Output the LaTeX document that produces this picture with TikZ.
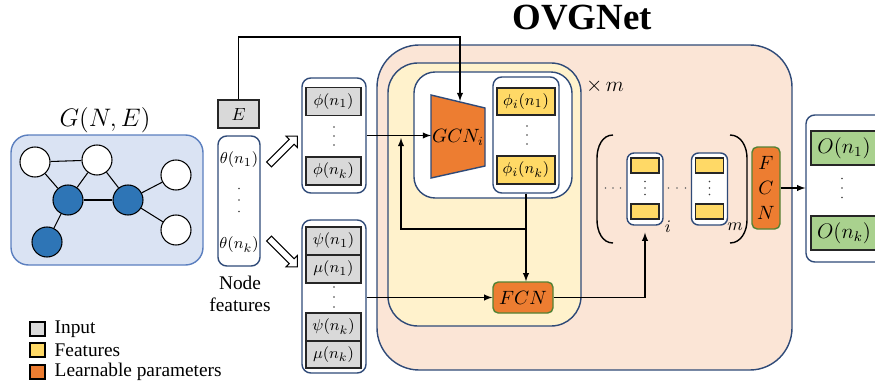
\documentclass[tikz,border=0pt]{standalone}
\usepackage{fontspec}
\setmainfont{Liberation Serif}
\usetikzlibrary{shapes.arrows}

\definecolor{navy}{HTML}{2F4A78}
\definecolor{graphblue}{HTML}{DAE3F3}
\definecolor{graphline}{HTML}{5B7FBF}
\definecolor{nodeblue}{HTML}{2E75B6}
\definecolor{ingray}{HTML}{D9D9D9}
\definecolor{featyellow}{HTML}{FFD966}
\definecolor{learnorange}{HTML}{ED7D31}
\definecolor{outgreen}{HTML}{A9D18E}
\definecolor{peach}{HTML}{FBE5D6}
\definecolor{paleyellow}{HTML}{FFF2CC}
\definecolor{fcnline}{HTML}{548235}

\newcommand{\pxl}{0.02cm}
% three small dots, vertical or horizontal, centred at (#1,#2) with gap #3
\newcommand{\vdotsat}[3]{\foreach \d in {-1,0,1} \fill[black!75] (#1,#2+\d*#3) circle (0.9*\pxl);}
\newcommand{\hdotsat}[3]{\foreach \d in {-1,0,1} \fill[black!60] (#1+\d*#3,#2) circle (0.8*\pxl);}
\newcommand{\cellfont}{\fontsize{9.5}{11}\selectfont}

\tikzset{
  holder/.style={draw=navy, line width=0.8pt, fill=white, rounded corners=5pt, inner sep=0pt},
  cell/.style={draw=black!85, line width=0.9pt, inner sep=0pt, minimum width=55*\pxl, minimum height=28*\pxl, font=\cellfont},
  incell/.style={cell, fill=ingray},
  featcell/.style={cell, fill=featyellow},
  outcell/.style={cell, fill=outgreen},
  learnbox/.style={draw=fcnline, line width=0.8pt, fill=learnorange, rounded corners=3pt, inner sep=0pt, font=\fontsize{10.5}{14}\selectfont},
  gnode/.style={circle, draw=black, line width=0.6pt, minimum size=30*\pxl, inner sep=0pt},
  wire/.style={line width=0.6pt},
  flow/.style={wire, -latex},
  fatarrow/.style={single arrow, draw=black, fill=white, line width=0.6pt, inner sep=3*\pxl,
    minimum height=40*\pxl, single arrow head extend=4.5*\pxl},
  legendbox/.style={draw=black, line width=0.6pt, minimum width=15*\pxl, minimum height=14*\pxl, inner sep=0pt}
}

\begin{document}
\begin{tikzpicture}[x=\pxl, y=-\pxl]
	\useasboundingbox (0,0) rectangle (875,385);

	% input graph
	\node[holder, draw=graphline, fill=graphblue, rounded corners=10pt, minimum width=192*\pxl, minimum height=130*\pxl] (gbox) at (107,200) {};
	\node[font=\fontsize{14.5}{14}\selectfont] (glabel) at (105,120) {$G(N,E)$};
	\foreach \n/\x/\y/\c in {w1/35/162/white, w2/97/160/white, w3/176/175/white, w4/176/230/white, b1/68/200/nodeblue, b2/128/200/nodeblue, b3/47/242/nodeblue}
		\node[gnode, fill=\c] (\n) at (\x,\y) {};
	\foreach \a/\b in {w1/w2, w1/b1, w2/b1, w2/b2, b1/b2, b2/w3, b2/w4, b1/b3}
		\draw[wire] (\a) -- (\b);

	% edges and node features
	\node[incell, minimum width=41*\pxl, font=\fontsize{10}{11}\selectfont] (E) at (238.5,114) {$E$};
	\node[holder, minimum width=42*\pxl, minimum height=130*\pxl] (theta) at (239,201) {};
	\node[font=\cellfont] (th1) at (239,160) {$\theta(n_1)$};
	\vdotsat{239}{200}{11.5}
	\node[font=\cellfont] (thk) at (239,245) {$\theta(n_k)$};
	\node[align=center, font=\fontsize{11}{12.5}\selectfont] (nfeat) at (240,294) {Node\\features};

	\node[fatarrow, rotate=45] (upar) at (282,151.5) {};
	\node[fatarrow, rotate=-45] (downar) at (282,251.5) {};

	% phi column
	\node[holder, minimum width=64*\pxl, minimum height=115*\pxl] (phib) at (334,135.5) {};
	\node[incell] (phi1) at (333.5,101.5) {$\phi(n_1)$};
	\vdotsat{334}{136}{9}
	\node[incell] (phik) at (333.5,171) {$\phi(n_k)$};

	% psi / mu column
	\node[holder, minimum width=64*\pxl, minimum height=153*\pxl] (psib) at (334,296.5) {};
	\node[incell] (psi1) at (333.5,241) {$\psi(n_1)$};
	\node[incell] (mu1) at (333.5,269) {$\mu(n_1)$};
	\vdotsat{334}{297}{10}
	\node[incell] (psik) at (333.5,327) {$\psi(n_k)$};
	\node[incell, minimum height=27*\pxl] (muk) at (333.5,354.5) {$\mu(n_k)$};

	% OVGNet
	\node[draw=navy, line width=0.8pt, fill=peach, rounded corners=24pt, minimum width=415*\pxl, minimum height=325*\pxl] (ovg) at (584.5,207.5) {};
	\node[font=\fontsize{21}{21}\selectfont\bfseries] (title) at (582,18) {OVGNet};
	\node[draw=navy, line width=0.8pt, fill=paleyellow, rounded corners=17pt, minimum width=193*\pxl, minimum height=263*\pxl] (loop) at (484.5,194.5) {};
	\node[font=\fontsize{12}{12}\selectfont] (times) at (605,86) {$\times\, m$};
	\node[holder, rounded corners=12pt, minimum width=158*\pxl, minimum height=126*\pxl] (gcnbox) at (493,135) {};

	\draw[fill=learnorange, draw=navy, line width=0.8pt] (431,95) -- (485,108) -- (485,166) -- (431,178) -- cycle;
	\node[font=\fontsize{10.5}{12}\selectfont] (gcn) at (458,137) {$GCN_i$};
	\coordinate (gcnin) at (431,135.5);
	\coordinate (gcntop) at (460,101);

	\node[holder, minimum width=66*\pxl, minimum height=116*\pxl] (phiib) at (526,135) {};
	\node[featcell, minimum width=58*\pxl, minimum height=27*\pxl] (phii1) at (526,101.5) {$\phi_i(n_1)$};
	\vdotsat{527}{135}{9}
	\node[featcell, minimum width=58*\pxl] (phiik) at (526,170) {$\phi_i(n_k)$};

	\node[learnbox, minimum width=60*\pxl, minimum height=31*\pxl] (fcn1) at (523,297.5) {$FCN$};

	% stacked outputs of the m layers
	\draw[line width=0.8pt] (613,135) to[out=180,in=90] (597,158) -- (597,220) to[out=270,in=180] (613,243);
	\draw[line width=0.8pt] (730,135) to[out=0,in=90] (747,158) -- (747,220) to[out=270,in=0] (730,243);
	\hdotsat{613}{188}{7.5}
	\hdotsat{677}{188}{8.5}
	\foreach \c/\x/\sx in {i/645/668, m/709.5/735} {
		\node[holder, rounded corners=4pt, minimum width=36*\pxl, minimum height=72*\pxl] (col\c) at (\x,189) {};
		\node[featcell, minimum width=28*\pxl, minimum height=15*\pxl] (col\c top) at (\x,165.5) {};
		\node[featcell, minimum width=28*\pxl, minimum height=15*\pxl] (col\c bot) at (\x,211.5) {};
		\vdotsat{\x}{188}{6.5}
		\node[font=\fontsize{10}{11}\selectfont] (sub\c) at (\sx,227) {$\c$};
	}

	\node[learnbox, minimum width=28*\pxl, minimum height=82*\pxl, align=center] (fcn2) at (766,188) {$F$\\$C$\\$N$};

	% outputs
	\node[holder, minimum width=80*\pxl, minimum height=147*\pxl] (outb) at (846,188.5) {};
	\node[outcell, minimum width=66*\pxl, minimum height=34*\pxl, font=\fontsize{11.5}{12}\selectfont] (o1) at (844,148) {$O(n_1)$};
	\vdotsat{842}{188}{9.5}
	\node[outcell, minimum width=66*\pxl, minimum height=34*\pxl, font=\fontsize{11.5}{12}\selectfont] (ok) at (844,233) {$O(n_k)$};

	% connectors
	\coordinate (ebend) at (460,37);
	\draw[flow] (E.north) |- (ebend) -- (gcntop);
	\draw[flow] (phib.east) -- (gcnin);
	\draw[flow] (phiib.south) -- (phiib.south |- fcn1.north);
	\coordinate (split) at (526,229);
	\coordinate (fbin) at (401,138);
	\draw[flow] (split) -| (fbin);
	\draw[flow] (psib.east |- fcn1.west) -- (fcn1.west);
	\draw[flow, shorten >=7*\pxl] (fcn1.east) -| (coli.south);
	\draw[flow] (fcn2.east) -- (outb.west |- fcn2.east);

	% legend
	\foreach \k/\c/\t/\y in {in/ingray/Input/329, feat/featyellow/Features/350, learn/learnorange/Learnable parameters/372} {
		\node[legendbox, fill=\c] (lg\k) at (37.5,\y) {};
		\node[anchor=west, font=\fontsize{11}{12}\selectfont, xshift=3*\pxl] (lt\k) at (lg\k.east) {\t};
	}
\end{tikzpicture}
\end{document}
